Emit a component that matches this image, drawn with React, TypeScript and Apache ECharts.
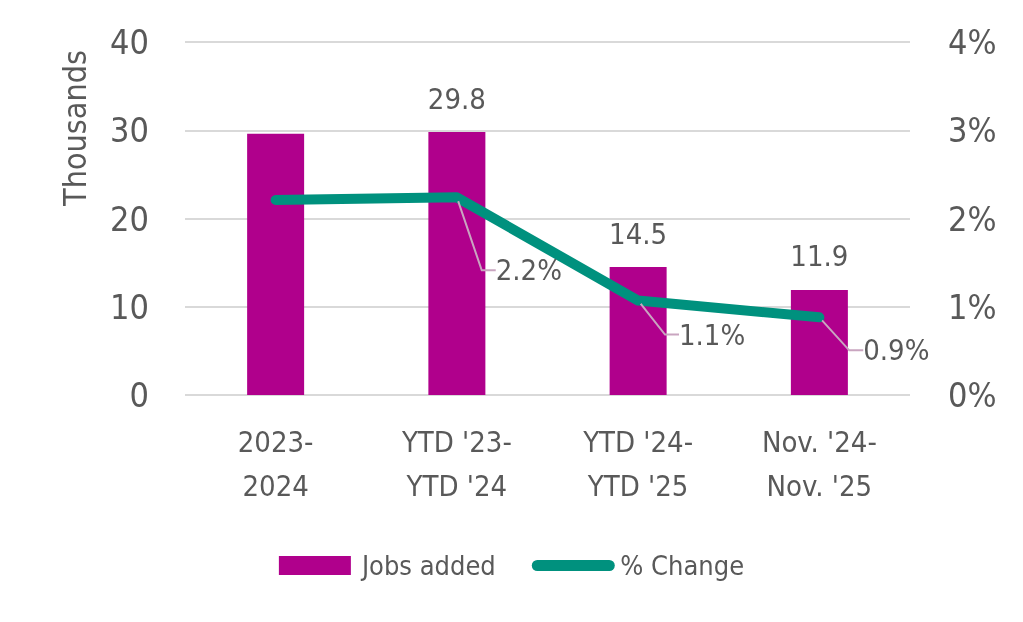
import React, { useEffect, useRef } from "react";
import * as echarts from "echarts";

const categories = ["2023-\n2024", "YTD '23-\nYTD '24", "YTD '24-\nYTD '25", "Nov. '24-\nNov. '25"];
const jobsAdded = [29.6, 29.8, 14.5, 11.9];
const jobsLabelShown = [false, true, true, true];
const pctChange = [2.21, 2.24, 1.07, 0.88];
const pctLabelText = ["2.2%", "2.2%", "1.1%", "0.9%"];
const pctLabelShown = [false, true, true, true];
const leftTicks = [0, 10, 20, 30, 40];
const rightTicks = [0, 1, 2, 3, 4];

const FONT = "'Liberation Sans Narrow', 'DejaVu Sans Condensed', 'Roboto', sans-serif";
const TEXT = "#595959";
const BAR = "#B0008C";
const LINE = "#00917E";
const LEADER = "#c9a5c0";
// label offsets (layout only)
const LABEL_DX = [68, 70, 72, 75];
const LABEL_DY = [73, 73, 34, 33];

export default function App() {
  const ref = useRef<HTMLDivElement>(null);
  useEffect(() => {
    if (!ref.current) return;
    const chart = echarts.init(ref.current, undefined, { renderer: "svg" });
    chart.setOption({
      animation: false,
      textStyle: { fontFamily: FONT, color: TEXT },
      grid: { left: 185, right: 113, top: 42, bottom: 227 },
      graphic: [
        {
          type: "text",
          x: 75,
          y: 128,
          rotation: Math.PI / 2,
          style: { text: "Thousands", fontSize: 32, fill: TEXT, fontFamily: FONT, align: "center", verticalAlign: "middle" },
        },
      ],
      legend: {
        bottom: 38,
        left: "center",
        itemGap: 36,
        itemWidth: 72,
        itemHeight: 19,
        textStyle: { fontFamily: FONT, fontSize: 27, color: TEXT, padding: [0, 0, 0, 6] },
        data: [
          { name: "Jobs added", icon: "rect" },
          { name: "% Change", itemStyle: { opacity: 0 }, lineStyle: { width: 11, cap: "round", opacity: 1, color: LINE } },
        ],
      },
      xAxis: {
        type: "category",
        data: categories,
        axisLine: { show: false },
        axisTick: { show: false },
        axisLabel: { fontSize: 29, color: TEXT, fontFamily: FONT, margin: 25, lineHeight: 44 },
      },
      yAxis: [
        {
          type: "value",
          min: leftTicks[0],
          max: leftTicks[leftTicks.length - 1],
          interval: 10,
          axisLine: { show: false },
          axisTick: { show: false },
          splitLine: { lineStyle: { color: "#d9d9d9", width: 2 } },
          axisLabel: { fontSize: 34, color: TEXT, fontFamily: FONT, margin: 36 },
        },
        {
          type: "value",
          min: rightTicks[0],
          max: rightTicks[rightTicks.length - 1],
          interval: 1,
          axisLine: { show: false },
          axisTick: { show: false },
          splitLine: { show: false },
          axisLabel: { fontSize: 34, color: TEXT, fontFamily: FONT, margin: 38, formatter: (v: number) => v + "%" },
        },
      ],
      series: [
        {
          name: "Jobs added",
          type: "bar",
          barWidth: 57,
          itemStyle: { color: BAR },
          data: jobsAdded.map((v, i) => ({
            value: v,
            label: {
              show: jobsLabelShown[i],
              position: "top",
              distance: 19,
              fontSize: 29,
              color: TEXT,
              fontFamily: FONT,
              formatter: (p: any) => p.value.toFixed(1),
            },
          })),
        },
        {
          name: "% Change",
          type: "line",
          yAxisIndex: 1,
          symbol: "circle",
          symbolSize: 8,
          showSymbol: true,
          lineStyle: { color: LINE, width: 10, cap: "round", join: "round" },
          itemStyle: { color: LINE },
          data: pctChange.map((v, i) => ({
            value: v,
            label: {
              show: pctLabelShown[i],
              position: "inside",
              fontSize: 29,
              color: TEXT,
              fontFamily: FONT,
              padding: [0, 0, 0, 4],
              formatter: () => pctLabelText[i],
            },
            labelLine: { show: pctLabelShown[i], lineStyle: { color: LEADER, width: 2 } },
          })),
          labelLayout: (p: any) => ({ dx: LABEL_DX[p.dataIndex], dy: LABEL_DY[p.dataIndex] }),
          labelLine: { show: true, length2: 14, lineStyle: { color: LEADER, width: 2 } },
          z: 5,
        },
      ],
    });
    return () => chart.dispose();
  }, []);
  return <div ref={ref} style={{ position: "fixed", left: 0, top: 0, width: 1023, height: 622 }} />;
}
